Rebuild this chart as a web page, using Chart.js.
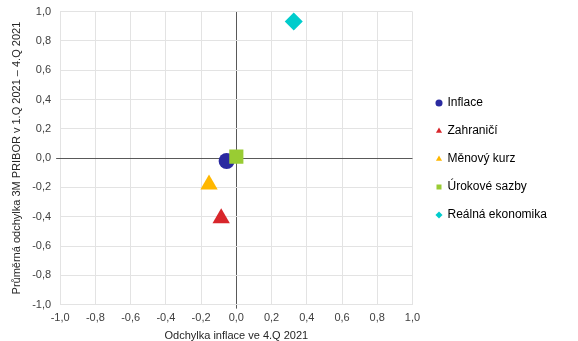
<!DOCTYPE html>
<html>
<head>
<meta charset="utf-8">
<script src="https://cdn.jsdelivr.net/npm/chart.js@4/dist/chart.umd.min.js"></script>
<style>
  html, body { margin: 0; padding: 0; background: #fff; }
  #wrap { width: 578px; height: 341px; }
</style>
</head>
<body>
<div id="wrap"><canvas id="odchylky"></canvas></div>
<script>
const ctxOdchylky = document.getElementById('odchylky');

const seriesNames = ['Inflace', 'Zahraničí', 'Měnový kurz', 'Úrokové sazby', 'Reálná ekonomika'];
const inflationDev = [-0.055, -0.086, -0.155, 0.0, 0.326];
const priborDev = [-0.02, -0.41, -0.18, 0.01, 0.933];
const colors = ['#2A2AA0', '#D8262B', '#FFB700', '#99CC33', '#00CCCC'];
const shapes = ['circle', 'triangle', 'triangle', 'rect', 'rectRot'];
const sizes = [8, 10, 10, 10, 9];
const drawOrder = [2, 3, 4, 1, 5];

const gridColor = ctx => ctx.tick && ctx.tick.value === 0 ? '#595959' : '#e3e3e3';
const tickMarkColor = ctx => ctx.tick && ctx.tick.value === 0 ? '#595959' : 'rgba(0,0,0,0)';
const fmt = v => v.toFixed(1).replace('.', ',');

// move the legend block a bit right and up from where the layout puts it
const legendShift = {
    id: 'legendShift',
    afterLayout(chart) {
        const lg = chart.legend;
        lg.left += 8; lg.right += 8;
        lg.top -= 18; lg.bottom -= 18;
    }
};

const datasets = seriesNames.map((name, i) => ({
    label: name,
    data: [{ x: inflationDev[i], y: priborDev[i] }],
    backgroundColor: colors[i],
    borderColor: colors[i],
    borderWidth: 0,
    pointStyle: shapes[i],
    pointRadius: sizes[i],
    pointHoverRadius: sizes[i],
    order: drawOrder[i]
}));

new Chart(ctxOdchylky, {
    type: 'scatter',
    data: { datasets: datasets },
    plugins: [legendShift],
    options: {
        responsive: true,
        maintainAspectRatio: false,
        animation: false,
        layout: { padding: { top: 7, right: 30, left: 6, bottom: -6 } },
        scales: {
            x: {
                min: -1, max: 1,
                ticks: { stepSize: 0.2, callback: v => fmt(v), color: '#404040', font: { family: 'Liberation Sans', size: 11 }, maxRotation: 0, padding: 3 },
                grid: { color: gridColor, tickColor: tickMarkColor, tickLength: 4 },
                border: { display: false },
                title: { display: true, text: 'Odchylka inflace ve 4.Q 2021', color: '#262626', font: { family: 'Liberation Sans', size: 11 }, padding: { top: 2 } }
            },
            y: {
                min: -1, max: 1,
                ticks: { stepSize: 0.2, callback: v => fmt(v), color: '#404040', font: { family: 'Liberation Sans', size: 11 }, padding: 5 },
                grid: { color: gridColor, tickColor: tickMarkColor, tickLength: 4 },
                border: { display: false },
                title: { display: true, text: 'Průměrná odchylka 3M PRIBOR v 1.Q 2021 – 4.Q 2021', color: '#262626', font: { family: 'Liberation Sans', size: 11 }, padding: { bottom: 4 } }
            }
        },
        plugins: {
            tooltip: { enabled: false },
            legend: {
                position: 'right',
                labels: {
                    usePointStyle: true,
                    boxWidth: 5,
                    boxHeight: 5,
                    padding: 16,
                    color: '#000',
                    font: { family: 'Liberation Sans', size: 12 },
                    sort: (a, b) => a.datasetIndex - b.datasetIndex
                }
            }
        }
    }
});
</script>
</body>
</html>
